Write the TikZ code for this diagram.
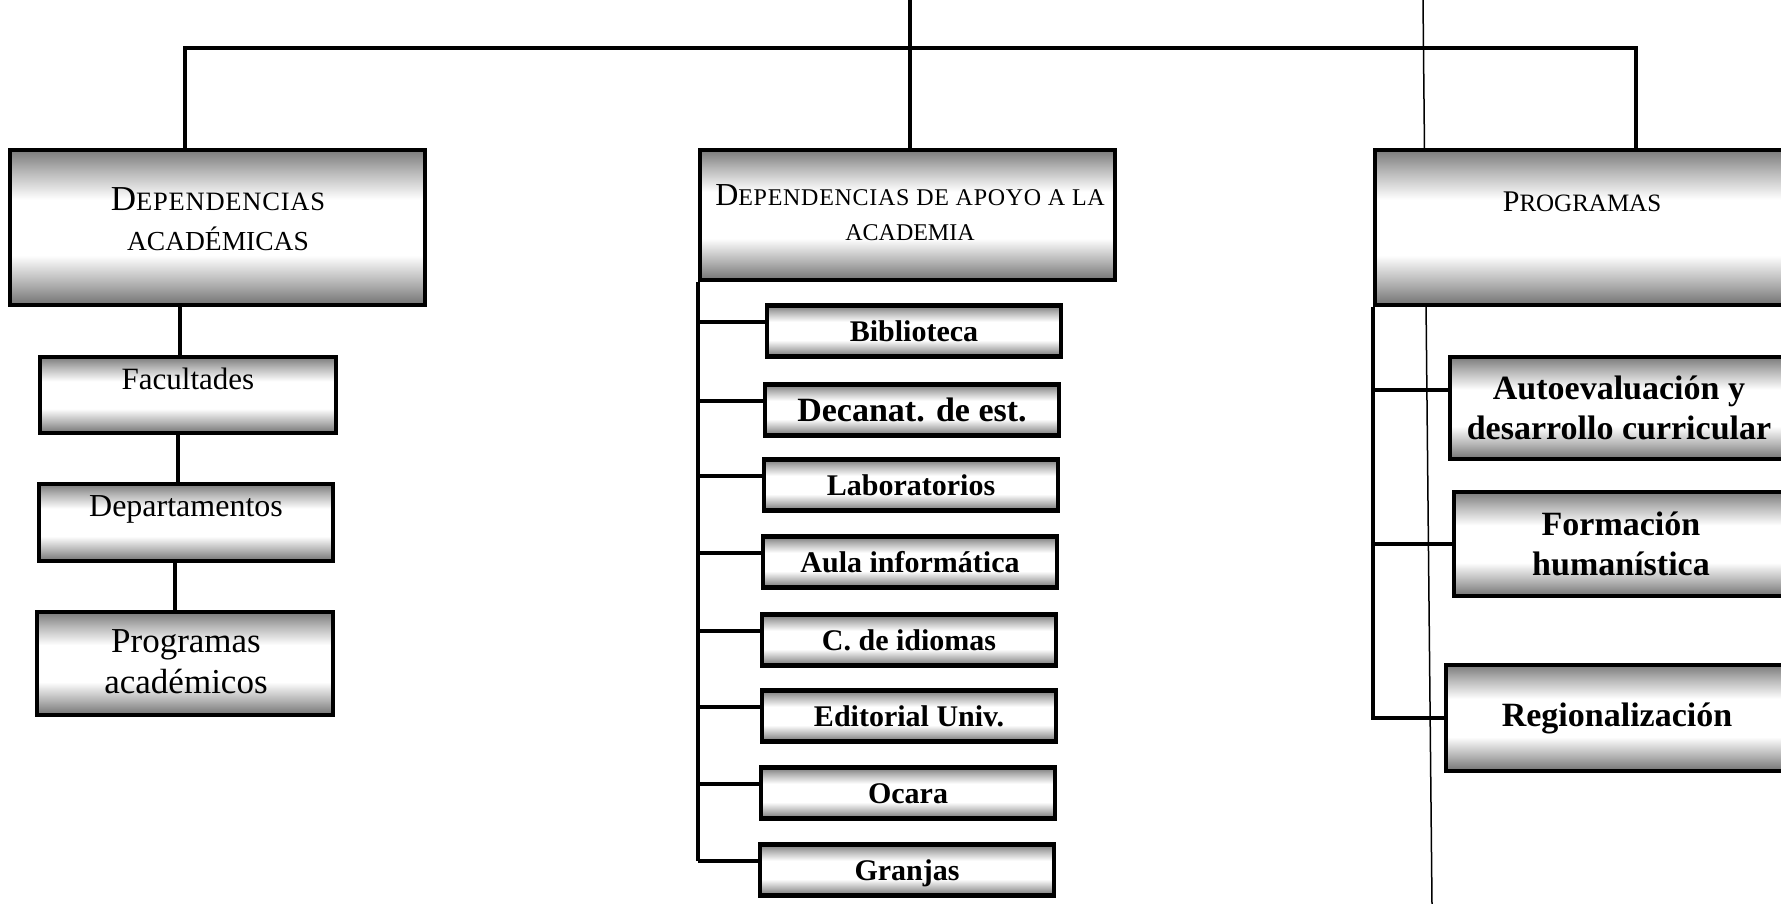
\documentclass[tikz,border=0pt]{standalone}
\usepackage{fontspec}
\newfontfamily\tnr{Liberation Serif}
\newcommand\hsc[2]{{\fontsize{#1}{#1}\selectfont #2}}
\pgfdeclareverticalshading{boxshade}{100bp}{color(0bp)=(black!55); color(25bp)=(black!55); color(32bp)=(black!30); color(41bp)=(white); color(59bp)=(white); color(68bp)=(black!28); color(75bp)=(black!52); color(100bp)=(black!52)}
\tikzset{
  box/.style={draw=black, line width=4.5pt, shade, shading=boxshade, inner sep=0pt, anchor=center},
  midbox/.style={box, minimum width=294pt, minimum height=51pt, text height=20pt, text depth=0pt,
    font=\tnr\bfseries\fontsize{30}{34}\selectfont},
  rightbox/.style={box, align=center, font=\tnr\bfseries\fontsize{34}{40}\selectfont},
  lefttext/.style={inner sep=0pt, text height=21pt, text depth=0pt, font=\tnr\fontsize{31}{36}\selectfont},
  head/.style={inner sep=0pt, align=center},
  conn/.style={line width=4.5pt, line join=miter, line cap=butt},
  fold/.style={line width=1.5pt}
}
\begin{document}
\begin{tikzpicture}[x=1pt,y=-1pt]
\fill[white] (0,0) rectangle (1781,904);
\useasboundingbox (0,0) rectangle (1781,904);
\clip (0,0) rectangle (1781,904);

% thin fold line of the scan
\coordinate (foldA) at (1423,0);
\coordinate (foldB) at (1432,904);
\draw[fold] (foldA) -- (foldB);

% ---------- top level boxes ----------
\node[box, minimum width=415pt, minimum height=155pt] (acad) at (217.5,227.5) {};
\node[head, font=\tnr\fontsize{27}{40}\selectfont] (acadT) at (218,219)
  {\hsc{35}{D}\hsc{26.5}{\addfontfeature{LetterSpace=3}EPENDENCIAS}\\\hsc{27.5}{ACADÉMICAS}};

\node[box, minimum width=415pt, minimum height=130pt] (apoyo) at (907.5,215) {};
\node[head, font=\tnr\fontsize{24}{35}\selectfont] (apoyoT) at (910,213)
  {\hsc{32}{D}\hsc{24}{\addfontfeature{LetterSpace=3}EPENDENCIAS DE APOYO A LA}\\\hsc{24}{ACADEMIA}};

\node[box, minimum width=413pt, minimum height=155pt] (prog) at (1581.5,227.5) {};
\node[head, font=\tnr\fontsize{25}{34}\selectfont] (progT) at (1582,202)
  {\hsc{30}{P}\hsc{25}{ROGRAMAS}};

% ---------- left column ----------
\node[box, minimum width=296pt, minimum height=76pt] (fac) at (188,395) {};
\node[lefttext] (facT) at (188,379) {Facultades};
\node[box, minimum width=294pt, minimum height=77pt] (dep) at (186,522.5) {};
\node[lefttext, font=\tnr\fontsize{32}{36}\selectfont] (depT) at (186,506) {Departamentos};
\node[box, minimum width=296pt, minimum height=103pt] (proga) at (185,663.5) {};
\node[head, font=\tnr\fontsize{35}{41}\selectfont] (progaT) at (186,662) {Programas\\académicos};

% ---------- middle column ----------
\node[midbox] (bib)  at (914,331) {Biblioteca};
\node[midbox, font=\tnr\bfseries\fontsize{34}{38}\selectfont, text height=23pt] (dec) at (912,410) {Decanat. de est.};
\node[midbox] (lab)  at (911,485) {Laboratorios};
\node[midbox] (aula) at (910,562) {Aula informática};
\node[midbox] (idi)  at (909,640) {C. de idiomas};
\node[midbox] (edi)  at (909,716) {Editorial Univ.};
\node[midbox] (oca)  at (908,793) {Ocara};
\node[midbox] (gra)  at (907,870) {Granjas};

% ---------- right column ----------
\node[rightbox, minimum width=338pt, minimum height=102pt] (auto) at (1619,408) {Autoevaluación y\\desarrollo curricular};
\node[rightbox, minimum width=334pt, minimum height=104pt] (form) at (1621,544) {Formación\\humanística};
\node[rightbox, minimum width=342pt, minimum height=106pt] (reg) at (1617,718) {Regionalización};

% ---------- connectors ----------
\coordinate (trunk) at (910,0);
\coordinate (barL) at (185,48);
\coordinate (barR) at (1636,48);
\draw[conn] (trunk) -- (trunk |- apoyo.north);
\draw[conn] (barL |- acad.north) -- (barL) -- (barR) -- (barR |- prog.north);

\coordinate (lx1) at (180,0);
\coordinate (lx2) at (178,0);
\coordinate (lx3) at (175,0);
\draw[conn] (lx1 |- acad.south) -- (lx1 |- fac.north);
\draw[conn] (lx2 |- fac.south) -- (lx2 |- dep.north);
\draw[conn] (lx3 |- dep.south) -- (lx3 |- proga.north);

\coordinate (bus) at (apoyo.south west);
\foreach \n in {bib,dec,lab,aula,idi,edi,oca,gra}{
  \path ([yshift=9pt]\n.west) coordinate (\n-c);
  \draw[conn] (\n-c -| bus) -- (\n-c);
}
\draw[conn] (bus) -- (bus |- gra-c);

\coordinate (rbus) at (prog.south west);
\path ([yshift=18pt]auto.west) coordinate (auto-c);
\path (form.west) coordinate (form-c);
\path (reg.west) coordinate (reg-c);
\draw[conn] (rbus) -- (rbus |- reg-c) -- (reg-c);
\draw[conn] (auto-c -| rbus) -- (auto-c);
\draw[conn] (form-c -| rbus) -- (form-c);
\end{tikzpicture}
\end{document}
